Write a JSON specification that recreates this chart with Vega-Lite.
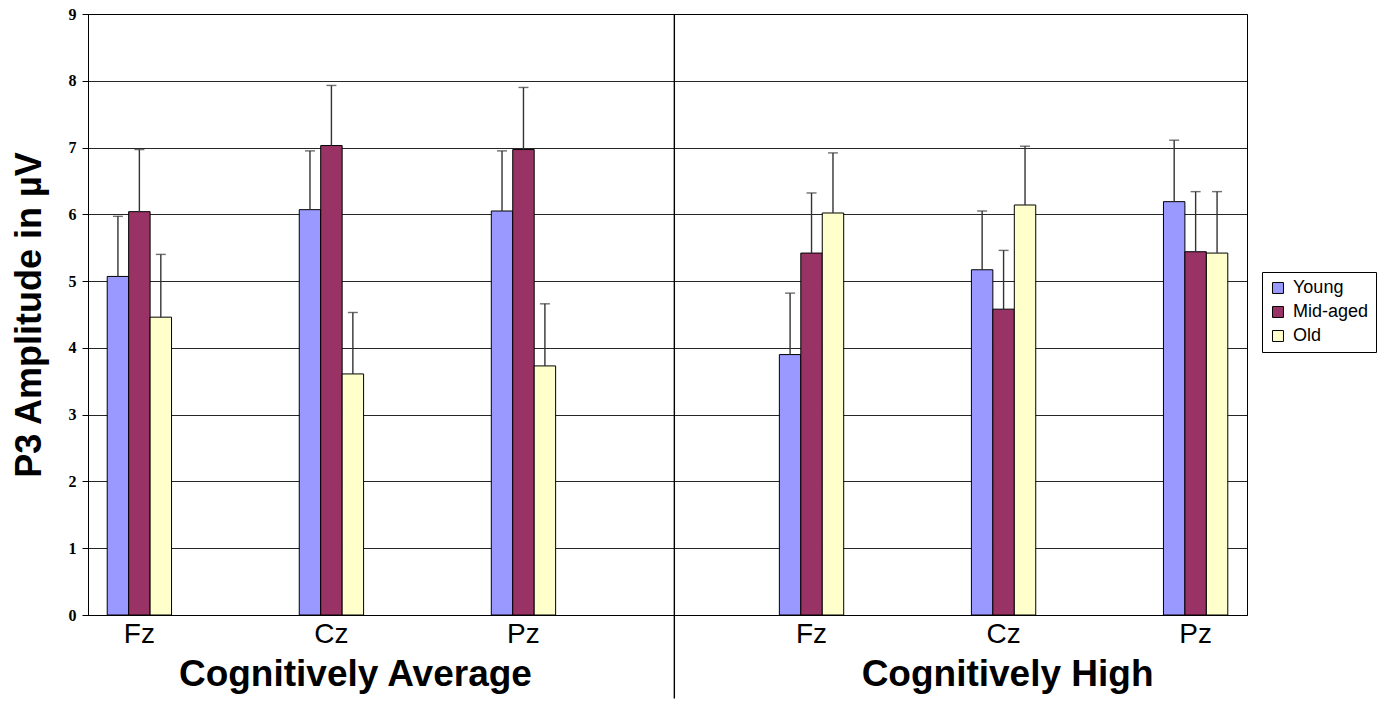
{
  "$schema": "https://vega.github.io/schema/vega-lite/v6.json",
  "description": "P3 amplitude by electrode site, age group and cognitive level.",
  "width": 1159,
  "height": 601,
  "autosize": {"type": "none"},
  "padding": {"left": 88, "top": 14, "right": 140, "bottom": 87},
  "config": {
    "view": {"stroke": "black", "strokeWidth": 1},
    "font": "Liberation Sans"
  },
  "datasets": {
    "p3": [
      {"cohort": "Average", "site": "Fz", "age": "Young", "amp": 5.07, "upper": 5.97},
      {"cohort": "Average", "site": "Fz", "age": "Mid-aged", "amp": 6.04, "upper": 6.97},
      {"cohort": "Average", "site": "Fz", "age": "Old", "amp": 4.46, "upper": 5.4},
      {"cohort": "Average", "site": "Cz", "age": "Young", "amp": 6.07, "upper": 6.95},
      {"cohort": "Average", "site": "Cz", "age": "Mid-aged", "amp": 7.03, "upper": 7.93},
      {"cohort": "Average", "site": "Cz", "age": "Old", "amp": 3.61, "upper": 4.53},
      {"cohort": "Average", "site": "Pz", "age": "Young", "amp": 6.05, "upper": 6.95},
      {"cohort": "Average", "site": "Pz", "age": "Mid-aged", "amp": 6.97, "upper": 7.9},
      {"cohort": "Average", "site": "Pz", "age": "Old", "amp": 3.73, "upper": 4.66},
      {"cohort": "High", "site": "Fz", "age": "Young", "amp": 3.9, "upper": 4.82},
      {"cohort": "High", "site": "Fz", "age": "Mid-aged", "amp": 5.42, "upper": 6.32},
      {"cohort": "High", "site": "Fz", "age": "Old", "amp": 6.02, "upper": 6.92},
      {"cohort": "High", "site": "Cz", "age": "Young", "amp": 5.17, "upper": 6.05},
      {"cohort": "High", "site": "Cz", "age": "Mid-aged", "amp": 4.58, "upper": 5.46},
      {"cohort": "High", "site": "Cz", "age": "Old", "amp": 6.14, "upper": 7.02},
      {"cohort": "High", "site": "Pz", "age": "Young", "amp": 6.19, "upper": 7.11},
      {"cohort": "High", "site": "Pz", "age": "Mid-aged", "amp": 5.44, "upper": 6.34},
      {"cohort": "High", "site": "Pz", "age": "Old", "amp": 5.42, "upper": 6.34}
    ]
  },
  "layer": [
    {
      "data": {"name": "p3"},
      "transform": [{"calculate": "datum.cohort + '|' + datum.site", "as": "cell"}],
      "encoding": {
        "x": {
          "field": "cell",
          "type": "nominal",
          "scale": {
            "domain": ["Average|Fz", "g1", "Average|Cz", "g2", "Average|Pz", "g3", "g4", "High|Fz", "g5", "High|Cz", "g6", "High|Pz"],
            "paddingInner": 0.33,
            "paddingOuter": 0.2
          },
          "axis": {
            "title": null,
            "labelExpr": "indexof(datum.value, '|') >= 0 ? split(datum.value, '|')[1] : ''",
            "labelAngle": 0,
            "labelFont": "Liberation Sans",
            "labelFontSize": 28,
            "labelColor": "black",
            "labelPadding": 5,
            "ticks": false,
            "domainColor": "black",
            "grid": false
          }
        },
        "xOffset": {"field": "age", "type": "nominal", "sort": ["Young", "Mid-aged", "Old"], "scale": {"paddingInner": 0}},
        "y": {
          "field": "amp",
          "type": "quantitative",
          "scale": {"domain": [0, 9], "nice": false},
          "axis": {
            "title": "P3 Amplitude in µV",
            "titleFont": "Liberation Sans",
            "titleFontSize": 36,
            "titleFontWeight": "bold",
            "titleColor": "black",
            "titlePadding": 20,
            "tickCount": 9,
            "labelFont": "Liberation Serif",
            "labelFontWeight": "bold",
            "labelFontSize": 16,
            "labelColor": "black",
            "labelPadding": 6,
            "tickSize": 6,
            "tickColor": "black",
            "domainColor": "black",
            "gridColor": "black",
            "gridOpacity": 0.85
          }
        }
      },
      "layer": [
        {
          "mark": {"type": "bar", "stroke": "black", "strokeWidth": 1},
          "encoding": {
            "color": {
              "field": "age",
              "type": "nominal",
              "scale": {"domain": ["Young", "Mid-aged", "Old"], "range": ["#9999FF", "#993366", "#FFFFCC"]},
              "legend": {
                "title": null,
                "orient": "none",
                "legendX": 1174,
                "legendY": 258,
                "symbolType": "square",
                "symbolSize": 120,
                "symbolStrokeColor": "black",
                "symbolStrokeWidth": 1,
                "labelFont": "Liberation Sans",
                "labelFontSize": 18,
                "labelColor": "black",
                "labelOffset": 6,
                "rowPadding": 6,
                "strokeColor": "black",
                "padding": 7,
                "fillColor": "white"
              }
            }
          }
        },
        {
          "mark": {"type": "rule", "color": "#333333", "strokeWidth": 1.4},
          "encoding": {"y2": {"field": "upper"}}
        },
        {
          "mark": {"type": "tick", "color": "#333333", "thickness": 1.4, "size": 10},
          "encoding": {"y": {"field": "upper", "type": "quantitative"}}
        }
      ]
    },
    {
      "data": {"values": [{"cell": "g4"}]},
      "mark": {"type": "rule", "color": "black", "strokeWidth": 1.4, "clip": false},
      "encoding": {
        "x": {"field": "cell", "type": "nominal", "bandPosition": -0.14},
        "y": {"datum": 9},
        "y2": {"datum": -1.25}
      }
    },
    {
      "data": {"values": [{"cell": "Average|Cz", "name": "Cognitively Average"}]},
      "mark": {
        "type": "text",
        "font": "Liberation Sans",
        "fontSize": 37,
        "fontWeight": "bold",
        "color": "black",
        "baseline": "alphabetic",
        "dx": 24,
        "clip": false
      },
      "encoding": {
        "x": {"field": "cell", "type": "nominal", "bandPosition": 0.5},
        "y": {"datum": -1.06},
        "text": {"field": "name"}
      }
    },
    {
      "data": {"values": [{"cell": "High|Cz", "name": "Cognitively High"}]},
      "mark": {
        "type": "text",
        "font": "Liberation Sans",
        "fontSize": 37,
        "fontWeight": "bold",
        "color": "black",
        "baseline": "alphabetic",
        "dx": 4,
        "clip": false
      },
      "encoding": {
        "x": {"field": "cell", "type": "nominal", "bandPosition": 0.5},
        "y": {"datum": -1.06},
        "text": {"field": "name"}
      }
    }
  ]
}
